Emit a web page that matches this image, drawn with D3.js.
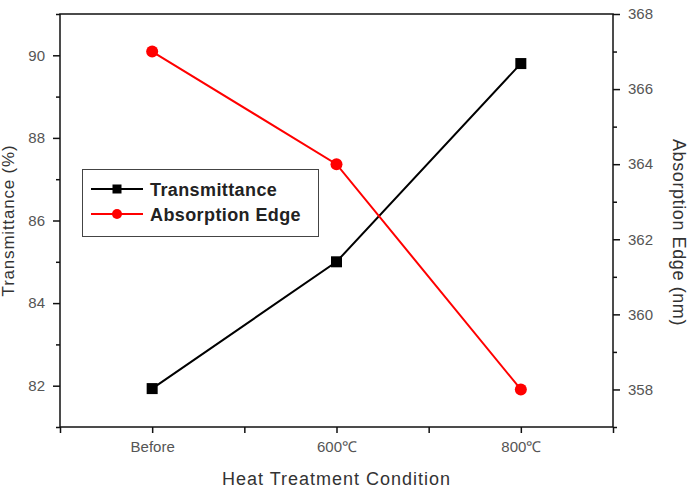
<!DOCTYPE html>
<html>
<head>
<meta charset="utf-8">
<script src="https://cdn.jsdelivr.net/npm/d3@7"></script>
<style>
  html, body { margin: 0; padding: 0; background: #fff; }
  svg { display: block; font-family: "Liberation Sans", Arial, sans-serif; }
</style>
</head>
<body>
<svg id="chart" width="700" height="491"></svg>
<script>
const conditions = ["Before", "600\u2103", "800\u2103"];
const transmittance = [81.93, 85.0, 89.8];
const absorptionEdge = [367.0, 364.0, 358.0];
const leftTicks = [82, 84, 86, 88, 90];
const rightTicks = [358, 360, 362, 364, 366, 368];

const width = 700, height = 491;
const margin = { top: 14, right: 87, bottom: 64, left: 60 };
const svg = d3.select("#chart");

const x = d3.scaleLinear().domain([-0.5, conditions.length - 0.5]).range([margin.left, width - margin.right]);
const yL = d3.scaleLinear().domain([81, 91]).range([height - margin.bottom, margin.top]);
const yR = d3.scaleLinear().domain([357, 368]).range([height - margin.bottom, margin.top]);

const tickColor = "#555";

function styleAxis(g) {
  g.select(".domain").remove();
  g.selectAll(".tick line").attr("stroke", "#111").attr("stroke-width", 1.5);
  g.selectAll(".tick text").attr("fill", tickColor).attr("font-size", 15);
}

// minor ticks
const minorL = d3.range(81, 91.01, 1).filter(v => !leftTicks.includes(v));
const minorR = d3.range(357, 368.01, 1).filter(v => !rightTicks.includes(v));

svg.append("g").attr("transform", `translate(${margin.left},0)`)
  .call(d3.axisLeft(yL).tickValues(minorL).tickSize(4).tickFormat(""))
  .call(styleAxis);
svg.append("g").attr("transform", `translate(${margin.left},0)`)
  .call(d3.axisLeft(yL).tickValues(leftTicks).tickSize(7).tickPadding(8).tickFormat(d3.format("d")))
  .call(styleAxis);

svg.append("g").attr("transform", `translate(${width - margin.right},0)`)
  .call(d3.axisRight(yR).tickValues(minorR).tickSize(4).tickFormat(""))
  .call(styleAxis);
svg.append("g").attr("transform", `translate(${width - margin.right},0)`)
  .call(d3.axisRight(yR).tickValues(rightTicks).tickSize(7).tickPadding(8).tickFormat(d3.format("d")))
  .call(styleAxis);

svg.append("g").attr("transform", `translate(0,${height - margin.bottom})`)
  .call(d3.axisBottom(x).tickValues([-0.5, 0.5, 1.5, 2.5]).tickSize(6).tickFormat(""))
  .call(styleAxis);
svg.append("g").attr("transform", `translate(0,${height - margin.bottom})`)
  .call(d3.axisBottom(x).tickValues(d3.range(conditions.length)).tickSize(6).tickPadding(8).tickFormat(i => conditions[i]))
  .call(styleAxis);

// frame
svg.append("rect")
  .attr("x", margin.left).attr("y", margin.top)
  .attr("width", width - margin.left - margin.right)
  .attr("height", height - margin.top - margin.bottom)
  .attr("fill", "none").attr("stroke", "#111").attr("stroke-width", 1.5);

// axis titles
svg.append("text")
  .attr("transform", `translate(14,${(margin.top + height - margin.bottom) / 2}) rotate(-90)`)
  .attr("text-anchor", "middle").attr("font-size", 17).attr("letter-spacing", 0.8)
  .attr("fill", "#333").text("Transmittance (%)");
svg.append("text")
  .attr("transform", `translate(673,${(margin.top + height - margin.bottom) / 2 + 12}) rotate(90)`)
  .attr("text-anchor", "middle").attr("font-size", 18).attr("letter-spacing", 0.6)
  .attr("fill", "#333").text("Absorption Edge (nm)");
svg.append("text")
  .attr("x", x(1)).attr("y", 485)
  .attr("text-anchor", "middle").attr("font-size", 18).attr("letter-spacing", 1)
  .attr("fill", "#333").text("Heat Treatment Condition");

// series
const lineT = d3.line().x((d, i) => x(i)).y(d => yL(d));
const lineA = d3.line().x((d, i) => x(i)).y(d => yR(d));

svg.append("path").datum(transmittance).attr("fill", "none").attr("stroke", "#000").attr("stroke-width", 2).attr("d", lineT);
svg.append("path").datum(absorptionEdge).attr("fill", "none").attr("stroke", "#f00").attr("stroke-width", 2).attr("d", lineA);

svg.selectAll(".sq").data(transmittance).enter().append("rect")
  .attr("x", (d, i) => x(i) - 5.5).attr("y", d => yL(d) - 5.5)
  .attr("width", 11).attr("height", 11).attr("fill", "#000");
svg.selectAll(".dot").data(absorptionEdge).enter().append("circle")
  .attr("cx", (d, i) => x(i)).attr("cy", d => yR(d)).attr("r", 6).attr("fill", "#f00");

// legend
const legend = svg.append("g");
legend.append("rect").attr("x", 82.5).attr("y", 169.5).attr("width", 236).attr("height", 67)
  .attr("fill", "#fff").attr("stroke", "#444").attr("stroke-width", 1);
const items = [
  { name: "Transmittance", color: "#000", shape: "square" },
  { name: "Absorption Edge", color: "#f00", shape: "circle" }
];
items.forEach((it, i) => {
  const cy = 189 + i * 25;
  legend.append("line").attr("x1", 91).attr("x2", 143).attr("y1", cy).attr("y2", cy)
    .attr("stroke", it.color).attr("stroke-width", 2);
  if (it.shape === "square") {
    legend.append("rect").attr("x", 117 - 4.5).attr("y", cy - 4.5).attr("width", 9).attr("height", 9).attr("fill", it.color);
  } else {
    legend.append("circle").attr("cx", 117).attr("cy", cy).attr("r", 5).attr("fill", it.color);
  }
  legend.append("text").attr("x", 150).attr("y", cy + 6.5)
    .attr("font-size", 18).attr("font-weight", "bold").attr("letter-spacing", 0.4)
    .attr("fill", "#222").text(it.name);
});
</script>
</body>
</html>
